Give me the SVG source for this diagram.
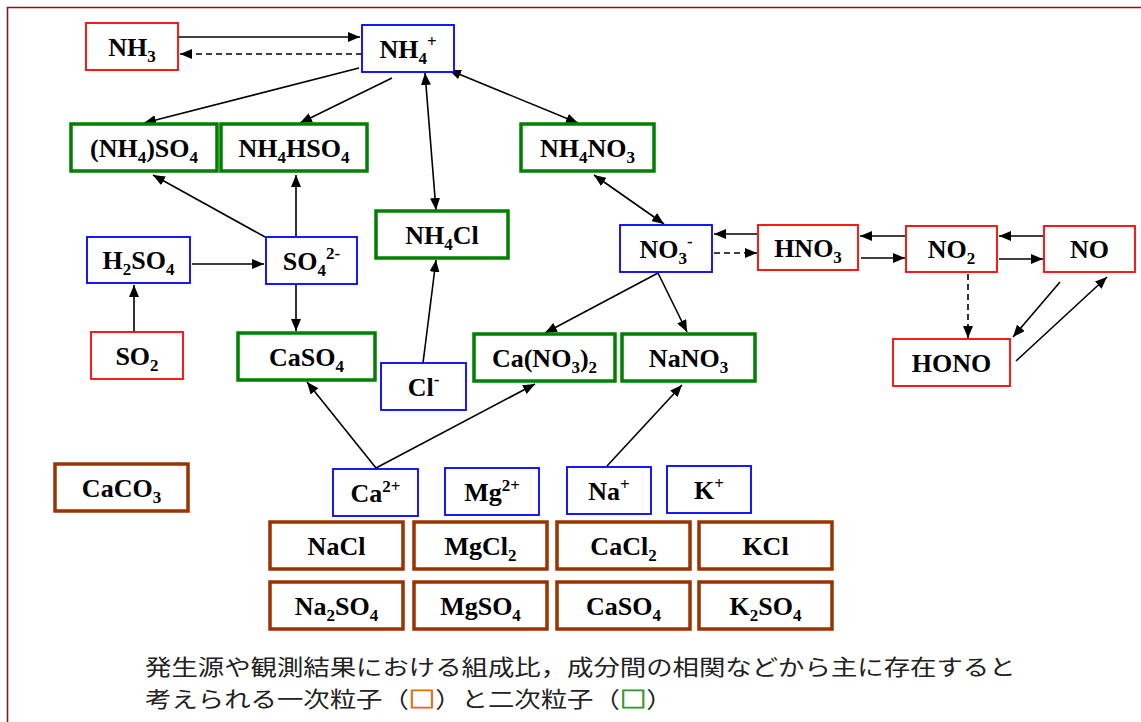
<svg xmlns="http://www.w3.org/2000/svg" width="1141" height="722" viewBox="0 0 1141 722">
<style>
.r{fill:#fff;stroke:#ff0000;stroke-width:1.8}
.b{fill:#fff;stroke:#0000ff;stroke-width:1.8}
.g{fill:#fff;stroke:#008000;stroke-width:3.5}
.br{fill:#fff;stroke:#993300;stroke-width:3.5}
.t{font-family:"Liberation Serif","Times New Roman",serif;font-weight:bold;font-size:26px;fill:#000;text-anchor:middle}
.s{font-size:17px}
.c{fill:none;stroke:#000;stroke-width:1.6}
.d{stroke-dasharray:6 4}
.cap{font-family:"Noto Sans CJK JP","Noto Sans",sans-serif;font-size:22px;fill:#222}
.sqo{fill:#e07010;stroke:#e07010;stroke-width:0.8}
.sqg{fill:#2e9a2e;stroke:#2e9a2e;stroke-width:0.8}
</style>
<defs>
<marker id="a" markerUnits="userSpaceOnUse" markerWidth="13" markerHeight="10" refX="12" refY="5" orient="auto-start-reverse">
<path d="M0,0 L12,5 L0,10 z" fill="#000"/>
</marker>
</defs>
<rect x="0" y="0" width="1141" height="722" fill="#fff"/>
<path d="M7.5,722 V7.5 H1141" fill="none" stroke="#7b1c1c" stroke-width="1.6"/>

<g id="connectors">
<line class="c" x1="178" y1="37" x2="360" y2="37" marker-end="url(#a)"/>
<line class="c d" x1="362" y1="54" x2="180" y2="54" marker-end="url(#a)"/>
<line class="c" x1="359" y1="68" x2="144" y2="123" marker-end="url(#a)"/>
<line class="c" x1="392" y1="78" x2="300" y2="123" marker-end="url(#a)"/>
<line class="c" x1="425" y1="73" x2="436" y2="210" marker-start="url(#a)" marker-end="url(#a)"/>
<line class="c" x1="449" y1="70" x2="578" y2="123" marker-start="url(#a)" marker-end="url(#a)"/>
<line class="c" x1="265" y1="237" x2="153" y2="175" marker-end="url(#a)"/>
<line class="c" x1="296" y1="237" x2="296" y2="175" marker-end="url(#a)"/>
<line class="c" x1="192" y1="264" x2="264" y2="264" marker-end="url(#a)"/>
<line class="c" x1="134" y1="331" x2="134" y2="285" marker-end="url(#a)"/>
<line class="c" x1="296" y1="284" x2="296" y2="331" marker-end="url(#a)"/>
<line class="c" x1="423" y1="363" x2="436" y2="260" marker-end="url(#a)"/>
<line class="c" x1="594" y1="175" x2="664" y2="224" marker-start="url(#a)" marker-end="url(#a)"/>
<line class="c" x1="757" y1="234" x2="714" y2="234" marker-end="url(#a)"/>
<line class="c d" x1="714" y1="253" x2="757" y2="253" marker-end="url(#a)"/>
<line class="c" x1="905" y1="236" x2="860" y2="236" marker-end="url(#a)"/>
<line class="c" x1="861" y1="258" x2="905" y2="258" marker-end="url(#a)"/>
<line class="c" x1="1043" y1="236" x2="999" y2="236" marker-end="url(#a)"/>
<line class="c" x1="999" y1="259" x2="1043" y2="259" marker-end="url(#a)"/>
<line class="c d" x1="968" y1="274" x2="968" y2="338" marker-end="url(#a)"/>
<line class="c" x1="1060" y1="282" x2="1013" y2="337" marker-end="url(#a)"/>
<line class="c" x1="1016" y1="361" x2="1107" y2="277" marker-end="url(#a)"/>
<line class="c" x1="658" y1="273" x2="545" y2="333" marker-end="url(#a)"/>
<line class="c" x1="658" y1="273" x2="687" y2="332" marker-end="url(#a)"/>
<line class="c" x1="376" y1="468" x2="307" y2="382" marker-end="url(#a)"/>
<line class="c" x1="376" y1="468" x2="535" y2="384" marker-end="url(#a)"/>
<line class="c" x1="607" y1="466" x2="682" y2="385" marker-end="url(#a)"/>
</g>

<g id="NH3"><rect class="r" x="86" y="23" width="92" height="47"/><text class="t" x="132" y="56">NH<tspan class="s" dy="6">3</tspan></text></g>
<g id="NH4p"><rect class="b" x="362" y="25" width="92" height="47"/><text class="t" x="408" y="58">NH<tspan class="s" dy="6">4</tspan><tspan class="s" dy="-17">+</tspan></text></g>
<g id="NH42SO4"><rect class="g" x="71" y="124" width="146" height="47"/><text class="t" x="144" y="157">(NH<tspan class="s" dy="6">4</tspan><tspan dy="-6">)SO</tspan><tspan class="s" dy="6">4</tspan></text></g>
<g id="NH4HSO4"><rect class="g" x="221" y="124" width="146" height="47"/><text class="t" x="294" y="157">NH<tspan class="s" dy="6">4</tspan><tspan dy="-6">HSO</tspan><tspan class="s" dy="6">4</tspan></text></g>
<g id="NH4NO3"><rect class="g" x="521" y="124" width="133" height="47"/><text class="t" x="587.5" y="157">NH<tspan class="s" dy="6">4</tspan><tspan dy="-6">NO</tspan><tspan class="s" dy="6">3</tspan></text></g>
<g id="NH4Cl"><rect class="g" x="376" y="211" width="132" height="47"/><text class="t" x="442" y="244">NH<tspan class="s" dy="6">4</tspan><tspan dy="-6">Cl</tspan></text></g>
<g id="H2SO4"><rect class="b" x="87" y="237" width="103" height="46"/><text class="t" x="138.5" y="269">H<tspan class="s" dy="6">2</tspan><tspan dy="-6">SO</tspan><tspan class="s" dy="6">4</tspan></text></g>
<g id="SO4"><rect class="b" x="266" y="237" width="91" height="47"/><text class="t" x="311.5" y="270">SO<tspan class="s" dy="6">4</tspan><tspan class="s" dy="-17">2-</tspan></text></g>
<g id="SO2"><rect class="r" x="91" y="332" width="92" height="47"/><text class="t" x="137" y="365">SO<tspan class="s" dy="6">2</tspan></text></g>
<g id="CaSO4g"><rect class="g" x="238" y="333" width="137" height="47"/><text class="t" x="306.5" y="366">CaSO<tspan class="s" dy="6">4</tspan></text></g>
<g id="Clm"><rect class="b" x="381" y="363" width="85" height="47"/><text class="t" x="423.5" y="396">Cl<tspan class="s" dy="-11">-</tspan></text></g>
<g id="CaNO32"><rect class="g" x="474" y="334" width="141" height="47"/><text class="t" x="544.5" y="367">Ca(NO<tspan class="s" dy="6">3</tspan><tspan dy="-6">)</tspan><tspan class="s" dy="6">2</tspan></text></g>
<g id="NaNO3"><rect class="g" x="622" y="334" width="133" height="47"/><text class="t" x="688.5" y="367">NaNO<tspan class="s" dy="6">3</tspan></text></g>
<g id="NO3m"><rect class="b" x="620" y="225" width="92" height="47"/><text class="t" x="666" y="258">NO<tspan class="s" dy="6">3</tspan><tspan class="s" dy="-17">-</tspan></text></g>
<g id="HNO3"><rect class="r" x="758" y="225" width="100" height="45"/><text class="t" x="808" y="257">HNO<tspan class="s" dy="6">3</tspan></text></g>
<g id="NO2"><rect class="r" x="906" y="226" width="91" height="46"/><text class="t" x="951.5" y="258">NO<tspan class="s" dy="6">2</tspan></text></g>
<g id="NO"><rect class="r" x="1044" y="226" width="91" height="46"/><text class="t" x="1089.5" y="258">NO</text></g>
<g id="HONO"><rect class="r" x="893" y="339" width="117" height="47"/><text class="t" x="951.5" y="372">HONO</text></g>
<g id="CaCO3"><rect class="br" x="55" y="464" width="133" height="47"/><text class="t" x="121.5" y="497">CaCO<tspan class="s" dy="6">3</tspan></text></g>
<g id="Ca2p"><rect class="b" x="333" y="469" width="85" height="47"/><text class="t" x="375.5" y="502">Ca<tspan class="s" dy="-10">2+</tspan></text></g>
<g id="Mg2p"><rect class="b" x="445" y="468" width="94" height="47"/><text class="t" x="492" y="501">Mg<tspan class="s" dy="-10">2+</tspan></text></g>
<g id="Nap"><rect class="b" x="567" y="467" width="84" height="47"/><text class="t" x="609" y="500">Na<tspan class="s" dy="-10">+</tspan></text></g>
<g id="Kp"><rect class="b" x="667" y="466" width="84" height="47"/><text class="t" x="709" y="499">K<tspan class="s" dy="-10">+</tspan></text></g>
<g id="NaCl"><rect class="br" x="270" y="522" width="133" height="47"/><text class="t" x="336.5" y="555">NaCl</text></g>
<g id="MgCl2"><rect class="br" x="414" y="522" width="133" height="47"/><text class="t" x="480.5" y="555">MgCl<tspan class="s" dy="6">2</tspan></text></g>
<g id="CaCl2"><rect class="br" x="557" y="522" width="133" height="47"/><text class="t" x="623.5" y="555">CaCl<tspan class="s" dy="6">2</tspan></text></g>
<g id="KCl"><rect class="br" x="699" y="522" width="133" height="47"/><text class="t" x="765.5" y="555">KCl</text></g>
<g id="Na2SO4"><rect class="br" x="270" y="582" width="133" height="47"/><text class="t" x="336.5" y="615">Na<tspan class="s" dy="6">2</tspan><tspan dy="-6">SO</tspan><tspan class="s" dy="6">4</tspan></text></g>
<g id="MgSO4"><rect class="br" x="414" y="582" width="133" height="47"/><text class="t" x="480.5" y="615">MgSO<tspan class="s" dy="6">4</tspan></text></g>
<g id="CaSO4b"><rect class="br" x="557" y="582" width="133" height="47"/><text class="t" x="623.5" y="615">CaSO<tspan class="s" dy="6">4</tspan></text></g>
<g id="K2SO4"><rect class="br" x="699" y="582" width="133" height="47"/><text class="t" x="765.5" y="615">K<tspan class="s" dy="6">2</tspan><tspan dy="-6">SO</tspan><tspan class="s" dy="6">4</tspan></text></g>

<g id="caption" transform="translate(145,0) scale(1.2,1)">
<text class="cap" x="0" y="675">発生源や観測結果における組成比，成分間の相関などから主に存在すると</text>
<text class="cap" x="0" y="707">考えられる一次粒子（<tspan class="sqo">□</tspan>）と二次粒子（<tspan class="sqg">□</tspan>）</text>
</g>
</svg>
